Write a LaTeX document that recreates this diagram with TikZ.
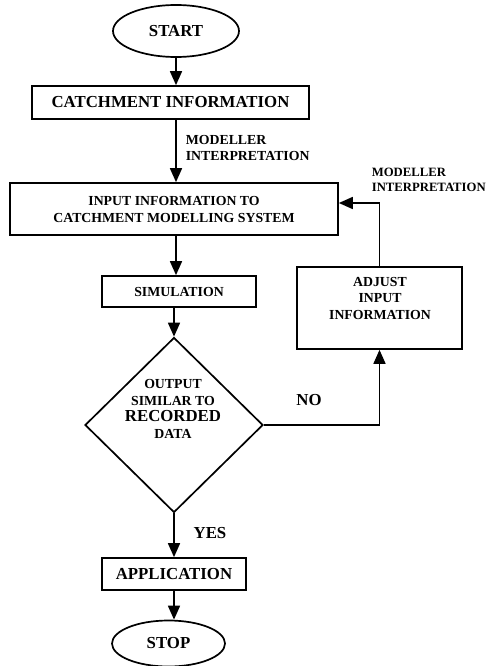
\documentclass[tikz,border=0pt]{standalone}
\usepackage{fontspec}
\setmainfont{Liberation Serif}
\usetikzlibrary{shapes.geometric,arrows.meta}

\begin{document}
\begin{tikzpicture}[x=1pt,y=-1pt,line width=1.7pt,
  box/.style={draw, rectangle, inner sep=0pt, align=center, font=\bfseries\fontsize{13.8}{17}\selectfont},
  bigbox/.style={box, font=\bfseries\fontsize{16.8}{19}\selectfont},
  term/.style={draw, ellipse, inner sep=0pt, font=\bfseries\fontsize{16.8}{19}\selectfont},
  decision/.style={draw, diamond, inner sep=0pt},
  txt/.style={inner sep=0pt, align=center, font=\bfseries\fontsize{13.8}{16.5}\selectfont},
  bigtxt/.style={inner sep=0pt, font=\bfseries\fontsize{16.8}{19}\selectfont},
  flow/.style={-{Triangle[length=14pt,width=12pt]}}]

% Frame of the page
\useasboundingbox (0,0) rectangle (498,666);

% Main column
\node[term, minimum width=126pt, minimum height=52pt] (start) at (176,31) {START};
\node[bigbox, minimum width=277pt, minimum height=33pt] (catch) at (170.5,102.5) {CATCHMENT INFORMATION};
\node[box, minimum width=328pt, minimum height=52pt] (input) at (174,209) {INPUT INFORMATION TO\\CATCHMENT MODELLING SYSTEM};
\node[box, minimum width=154pt, minimum height=31pt] (sim) at (179,291.5) {SIMULATION};
\node[decision, minimum width=178pt, minimum height=175pt] (check) at (174,425) {};
\node[txt] (checktext) at (173,409) {OUTPUT\\SIMILAR TO\\{\fontsize{16.8}{18}\selectfont RECORDED}\\DATA};
\node[bigbox, minimum width=144pt, minimum height=32pt] (app) at (174,574) {APPLICATION};
\node[term, minimum width=113pt, minimum height=46pt] (stop) at (168.5,643.5) {STOP};

% Feedback box
\node[box, minimum width=165pt, minimum height=82pt] (adjust) at (379.5,308) {};
\node[txt] (adjusttext) at (380,298) {ADJUST\\INPUT\\INFORMATION};

% Arrows down the column
\draw[flow] (start.south) -- (start.south |- catch.north);
\draw[flow] (catch.south -| start.south) -- (input.north -| start.south);
\draw[flow] (input.south -| start.south) -- (sim.north -| start.south);
\draw[flow] (sim.south -| check.north) -- (check.north);
\draw[flow] (check.south) -- (check.south |- app.north);
\draw[flow] (app.south -| check.south) -- (stop.north -| check.south);

% Loop back (NO)
\draw[flow] (check.east) -| (adjust.south);
\draw[flow] (adjust.north) |- ([yshift=6pt]input.east);

% Labels
\node[txt, align=left, anchor=west, font=\bfseries\fontsize{13.8}{16}\selectfont] (modeller) at (185,148) {MODELLER\\INTERPRETATION};
\node[txt, align=left, anchor=west, font=\bfseries\fontsize{12.7}{15}\selectfont] (modellerloop) at (371,180) {MODELLER\\INTERPRETATION};
\node[bigtxt] (no) at (309,400) {NO};
\node[bigtxt] (yes) at (210,533) {YES};

\end{tikzpicture}
\end{document}
